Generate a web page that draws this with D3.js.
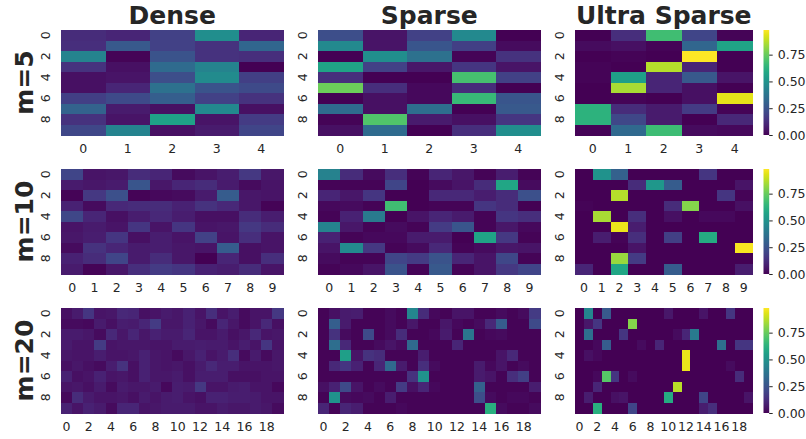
<!DOCTYPE html>
<html lang="en">
<head>
<meta charset="UTF-8">
<title>Heatmaps</title>
<script src="https://d3js.org/d3.v7.min.js"></script>
<style>
  body { margin: 0; background: #fff; }
  text { font-family: "DejaVu Sans", sans-serif; fill: #262626; }
</style>
</head>
<body>
<div id="chart"></div>
<script>
// column titles, row labels, colorbar ticks
const methods = ["Dense", "Sparse", "Ultra Sparse"];
const mValues = [5, 10, 20];
const cbTicks = [0, 0.25, 0.5, 0.75];
const vMax = 0.98;

// m = 5 (10 rows x 5 cols)
const denseM5 = [
  [0.12, 0.10, 0.19, 0.48, 0.10],
  [0.13, 0.27, 0.19, 0.14, 0.32],
  [0.44, 0.01, 0.25, 0.14, 0.13],
  [0.14, 0.04, 0.34, 0.44, 0.00],
  [0.04, 0.05, 0.23, 0.47, 0.18],
  [0.04, 0.10, 0.36, 0.25, 0.22],
  [0.18, 0.22, 0.29, 0.19, 0.14],
  [0.31, 0.07, 0.04, 0.46, 0.04],
  [0.14, 0.05, 0.56, 0.05, 0.17],
  [0.21, 0.44, 0.04, 0.07, 0.20]
];
const sparseM5 = [
  [0.23, 0.05, 0.19, 0.46, 0.00],
  [0.46, 0.05, 0.26, 0.18, 0.03],
  [0.00, 0.48, 0.36, 0.01, 0.14],
  [0.57, 0.19, 0.06, 0.15, 0.05],
  [0.13, 0.00, 0.00, 0.69, 0.19],
  [0.76, 0.13, 0.02, 0.12, 0.00],
  [0.00, 0.04, 0.02, 0.66, 0.26],
  [0.34, 0.04, 0.35, 0.00, 0.27],
  [0.01, 0.71, 0.07, 0.04, 0.15],
  [0.04, 0.34, 0.00, 0.13, 0.48]
];
const ultraM5 = [
  [0.00, 0.13, 0.68, 0.20, 0.01],
  [0.03, 0.04, 0.01, 0.32, 0.57],
  [0.00, 0.01, 0.00, 0.98, 0.00],
  [0.01, 0.00, 0.87, 0.10, 0.00],
  [0.01, 0.55, 0.10, 0.27, 0.05],
  [0.00, 0.85, 0.10, 0.04, 0.00],
  [0.00, 0.01, 0.00, 0.04, 0.94],
  [0.63, 0.12, 0.07, 0.17, 0.01],
  [0.63, 0.21, 0.07, 0.00, 0.11],
  [0.01, 0.33, 0.67, 0.03, 0.02]
];

// m = 10
const denseM10 = [
  [0.20, 0.05, 0.06, 0.12, 0.10, 0.03, 0.05, 0.08, 0.16, 0.06],
  [0.07, 0.06, 0.07, 0.26, 0.06, 0.10, 0.12, 0.07, 0.03, 0.05],
  [0.01, 0.16, 0.24, 0.01, 0.02, 0.03, 0.07, 0.28, 0.06, 0.05],
  [0.09, 0.03, 0.11, 0.12, 0.12, 0.09, 0.14, 0.11, 0.06, 0.01],
  [0.21, 0.10, 0.04, 0.08, 0.11, 0.08, 0.04, 0.04, 0.12, 0.08],
  [0.05, 0.07, 0.05, 0.15, 0.05, 0.15, 0.05, 0.06, 0.16, 0.12],
  [0.06, 0.08, 0.15, 0.04, 0.08, 0.05, 0.19, 0.05, 0.13, 0.05],
  [0.03, 0.14, 0.10, 0.07, 0.08, 0.06, 0.05, 0.28, 0.04, 0.05],
  [0.09, 0.12, 0.20, 0.07, 0.12, 0.06, 0.00, 0.10, 0.04, 0.13],
  [0.07, 0.01, 0.06, 0.13, 0.17, 0.15, 0.09, 0.08, 0.12, 0.05]
];
const sparseM10 = [
  [0.43, 0.12, 0.03, 0.13, 0.01, 0.10, 0.06, 0.01, 0.08, 0.01],
  [0.01, 0.01, 0.01, 0.20, 0.00, 0.03, 0.05, 0.12, 0.58, 0.03],
  [0.10, 0.06, 0.15, 0.00, 0.00, 0.11, 0.11, 0.08, 0.12, 0.24],
  [0.02, 0.03, 0.01, 0.68, 0.00, 0.01, 0.01, 0.15, 0.12, 0.00],
  [0.01, 0.09, 0.40, 0.00, 0.05, 0.10, 0.07, 0.01, 0.15, 0.13],
  [0.44, 0.06, 0.01, 0.03, 0.01, 0.17, 0.26, 0.01, 0.06, 0.02],
  [0.09, 0.01, 0.02, 0.02, 0.07, 0.07, 0.00, 0.57, 0.16, 0.01],
  [0.05, 0.46, 0.16, 0.01, 0.03, 0.11, 0.01, 0.03, 0.06, 0.05],
  [0.03, 0.01, 0.01, 0.20, 0.17, 0.25, 0.10, 0.05, 0.21, 0.01],
  [0.01, 0.02, 0.05, 0.25, 0.01, 0.27, 0.01, 0.05, 0.16, 0.20]
];
const ultraM10 = [
  [0.00, 0.50, 0.30, 0.00, 0.00, 0.00, 0.00, 0.15, 0.00, 0.00],
  [0.00, 0.00, 0.00, 0.12, 0.52, 0.28, 0.00, 0.00, 0.00, 0.05],
  [0.00, 0.00, 0.87, 0.00, 0.00, 0.00, 0.00, 0.00, 0.15, 0.01],
  [0.01, 0.00, 0.00, 0.00, 0.00, 0.12, 0.80, 0.00, 0.00, 0.04],
  [0.00, 0.85, 0.00, 0.13, 0.00, 0.04, 0.00, 0.02, 0.02, 0.00],
  [0.00, 0.00, 0.95, 0.08, 0.00, 0.00, 0.00, 0.00, 0.00, 0.00],
  [0.00, 0.08, 0.01, 0.13, 0.00, 0.18, 0.00, 0.60, 0.00, 0.00],
  [0.00, 0.00, 0.00, 0.05, 0.00, 0.00, 0.00, 0.00, 0.00, 0.97],
  [0.00, 0.00, 0.83, 0.17, 0.00, 0.00, 0.00, 0.00, 0.00, 0.00],
  [0.10, 0.00, 0.58, 0.00, 0.00, 0.28, 0.00, 0.00, 0.00, 0.08]
];

// m = 20
const denseM20 = [
  [0.04, 0.07, 0.15, 0.05, 0.06, 0.11, 0.10, 0.04, 0.05, 0.07, 0.06, 0.09, 0.05, 0.13, 0.05, 0.08, 0.03, 0.05, 0.05, 0.16],
  [0.03, 0.03, 0.02, 0.07, 0.04, 0.08, 0.07, 0.10, 0.17, 0.06, 0.06, 0.09, 0.06, 0.03, 0.10, 0.06, 0.03, 0.05, 0.11, 0.04],
  [0.07, 0.07, 0.06, 0.03, 0.11, 0.06, 0.10, 0.06, 0.09, 0.07, 0.07, 0.10, 0.05, 0.05, 0.07, 0.04, 0.06, 0.11, 0.05, 0.06],
  [0.07, 0.05, 0.05, 0.17, 0.05, 0.06, 0.06, 0.06, 0.05, 0.05, 0.07, 0.07, 0.08, 0.07, 0.07, 0.05, 0.08, 0.05, 0.15, 0.05],
  [0.06, 0.05, 0.05, 0.08, 0.05, 0.05, 0.06, 0.09, 0.06, 0.05, 0.03, 0.06, 0.09, 0.05, 0.07, 0.13, 0.03, 0.07, 0.03, 0.06],
  [0.04, 0.06, 0.04, 0.03, 0.08, 0.14, 0.04, 0.09, 0.06, 0.05, 0.06, 0.04, 0.07, 0.11, 0.08, 0.08, 0.05, 0.05, 0.05, 0.06],
  [0.09, 0.04, 0.05, 0.09, 0.05, 0.06, 0.04, 0.09, 0.06, 0.06, 0.07, 0.04, 0.08, 0.08, 0.08, 0.04, 0.04, 0.04, 0.05, 0.05],
  [0.05, 0.06, 0.04, 0.07, 0.03, 0.07, 0.06, 0.06, 0.07, 0.02, 0.08, 0.07, 0.16, 0.05, 0.05, 0.07, 0.08, 0.05, 0.05, 0.02],
  [0.02, 0.12, 0.07, 0.05, 0.05, 0.06, 0.04, 0.07, 0.05, 0.07, 0.08, 0.05, 0.04, 0.09, 0.09, 0.08, 0.08, 0.07, 0.05, 0.05],
  [0.09, 0.05, 0.09, 0.07, 0.03, 0.10, 0.10, 0.05, 0.06, 0.07, 0.07, 0.07, 0.05, 0.05, 0.07, 0.06, 0.06, 0.07, 0.06, 0.03]
];
const sparseM20 = [
  [0.01, 0.04, 0.07, 0.08, 0.01, 0.01, 0.03, 0.01, 0.45, 0.12, 0.02, 0.01, 0.05, 0.05, 0.01, 0.01, 0.03, 0.01, 0.03, 0.17],
  [0.01, 0.29, 0.07, 0.01, 0.01, 0.01, 0.03, 0.01, 0.06, 0.01, 0.01, 0.06, 0.02, 0.01, 0.03, 0.11, 0.28, 0.01, 0.01, 0.22],
  [0.01, 0.14, 0.03, 0.01, 0.22, 0.01, 0.03, 0.12, 0.01, 0.01, 0.02, 0.07, 0.01, 0.38, 0.01, 0.02, 0.03, 0.01, 0.01, 0.01],
  [0.01, 0.35, 0.11, 0.01, 0.01, 0.03, 0.05, 0.03, 0.33, 0.01, 0.01, 0.01, 0.10, 0.01, 0.01, 0.01, 0.01, 0.01, 0.01, 0.01],
  [0.01, 0.01, 0.55, 0.05, 0.14, 0.12, 0.01, 0.01, 0.01, 0.08, 0.01, 0.01, 0.01, 0.01, 0.01, 0.01, 0.05, 0.11, 0.01, 0.01],
  [0.01, 0.11, 0.15, 0.09, 0.01, 0.10, 0.33, 0.07, 0.01, 0.13, 0.03, 0.01, 0.01, 0.01, 0.07, 0.02, 0.05, 0.01, 0.03, 0.01],
  [0.01, 0.01, 0.01, 0.01, 0.01, 0.01, 0.01, 0.01, 0.14, 0.50, 0.01, 0.01, 0.01, 0.01, 0.07, 0.05, 0.01, 0.13, 0.18, 0.01],
  [0.04, 0.09, 0.22, 0.05, 0.01, 0.03, 0.01, 0.17, 0.04, 0.10, 0.02, 0.01, 0.01, 0.01, 0.30, 0.01, 0.01, 0.01, 0.01, 0.08],
  [0.01, 0.50, 0.03, 0.02, 0.03, 0.01, 0.08, 0.01, 0.01, 0.01, 0.01, 0.01, 0.01, 0.01, 0.23, 0.03, 0.01, 0.02, 0.02, 0.01],
  [0.10, 0.01, 0.10, 0.08, 0.01, 0.01, 0.01, 0.02, 0.01, 0.01, 0.01, 0.01, 0.01, 0.01, 0.01, 0.62, 0.03, 0.01, 0.01, 0.03]
];
const ultraM20 = [
  [0.00, 0.45, 0.00, 0.27, 0.00, 0.00, 0.00, 0.00, 0.00, 0.00, 0.06, 0.00, 0.00, 0.00, 0.05, 0.00, 0.00, 0.15, 0.00, 0.00],
  [0.00, 0.06, 0.15, 0.00, 0.00, 0.00, 0.80, 0.00, 0.00, 0.00, 0.00, 0.00, 0.00, 0.00, 0.00, 0.00, 0.00, 0.00, 0.00, 0.00],
  [0.00, 0.35, 0.00, 0.00, 0.00, 0.15, 0.00, 0.00, 0.00, 0.00, 0.00, 0.03, 0.10, 0.40, 0.00, 0.00, 0.00, 0.00, 0.00, 0.00],
  [0.00, 0.00, 0.02, 0.28, 0.00, 0.00, 0.00, 0.03, 0.00, 0.10, 0.00, 0.00, 0.00, 0.00, 0.00, 0.00, 0.35, 0.00, 0.15, 0.15],
  [0.00, 0.04, 0.02, 0.00, 0.00, 0.00, 0.00, 0.00, 0.00, 0.00, 0.00, 0.00, 0.95, 0.00, 0.00, 0.00, 0.00, 0.00, 0.00, 0.00],
  [0.00, 0.00, 0.00, 0.00, 0.00, 0.00, 0.00, 0.00, 0.00, 0.00, 0.00, 0.00, 0.95, 0.00, 0.00, 0.00, 0.00, 0.03, 0.00, 0.00],
  [0.00, 0.00, 0.02, 0.72, 0.15, 0.00, 0.03, 0.00, 0.00, 0.00, 0.00, 0.00, 0.00, 0.00, 0.00, 0.00, 0.00, 0.00, 0.12, 0.00],
  [0.00, 0.00, 0.10, 0.00, 0.00, 0.00, 0.00, 0.00, 0.00, 0.00, 0.00, 0.88, 0.00, 0.00, 0.00, 0.00, 0.00, 0.00, 0.00, 0.00],
  [0.00, 0.08, 0.00, 0.00, 0.04, 0.05, 0.00, 0.00, 0.00, 0.00, 0.60, 0.00, 0.00, 0.00, 0.20, 0.00, 0.00, 0.00, 0.00, 0.05],
  [0.00, 0.00, 0.62, 0.00, 0.00, 0.00, 0.20, 0.00, 0.00, 0.00, 0.00, 0.00, 0.00, 0.00, 0.08, 0.13, 0.00, 0.00, 0.00, 0.00]
];

const grid = [
  [denseM5, sparseM5, ultraM5],
  [denseM10, sparseM10, ultraM10],
  [denseM20, sparseM20, ultraM20]
];

const W = 806, H = 439;
const panelLeft = [61, 318, 575];
const panelW = [222.5, 222.5, 177.5];
const rowTop = [30, 169, 308];
const panelH = 105;
const cbX = 763.5, cbW = 5.7;

const svg = d3.select("#chart").append("svg")
    .attr("width", W).attr("height", H);

const color = d3.scaleSequential(d3.interpolateViridis).domain([0, vMax]);

// gradient for colorbars
const grad = svg.append("defs").append("linearGradient")
    .attr("id", "viridis").attr("x1", 0).attr("y1", 1).attr("x2", 0).attr("y2", 0);
d3.range(0, 1.0001, 0.05).forEach(t => {
    grad.append("stop").attr("offset", t).attr("stop-color", d3.interpolateViridis(t));
});

// column titles
methods.forEach((name, j) => {
    svg.append("text")
        .attr("x", panelLeft[j] + panelW[j] / 2)
        .attr("y", 24)
        .attr("text-anchor", "middle")
        .style("font-size", "25px")
        .style("font-weight", "bold")
        .text(name);
});

grid.forEach((rowData, i) => {
    const m = mValues[i];
    const y0 = rowTop[i];

    // row label
    svg.append("text")
        .attr("transform", `translate(33,${y0 + panelH / 2}) rotate(-90)`)
        .attr("text-anchor", "middle")
        .style("font-size", "25px")
        .style("font-weight", "bold")
        .text("m=" + m);

    rowData.forEach((mat, j) => {
        const x0 = panelLeft[j];
        const xs = d3.scaleBand().domain(d3.range(m)).range([x0, x0 + panelW[j]]);
        const ys = d3.scaleBand().domain(d3.range(10)).range([y0, y0 + panelH]);

        const cells = [];
        mat.forEach((r, ri) => r.forEach((v, ci) => cells.push({ r: ri, c: ci, v: v })));

        svg.append("g").attr("shape-rendering", "crispEdges")
            .selectAll("rect")
            .data(cells)
            .join("rect")
            .attr("x", d => xs(d.c))
            .attr("y", d => ys(d.r))
            .attr("width", xs.bandwidth() + 0.6)
            .attr("height", ys.bandwidth() + 0.6)
            .attr("fill", d => color(d.v));

        // y tick labels (every other row), rotated
        const yl = svg.append("g");
        d3.range(0, 10, 2).forEach(k => {
            yl.append("text")
                .attr("transform", `translate(${x0 - 11},${ys(k) + ys.bandwidth() / 2}) rotate(-90)`)
                .attr("text-anchor", "middle")
                .style("font-size", "12.5px")
                .text(k);
        });

        // x tick labels
        const step = m === 20 ? 2 : 1;
        const xl = svg.append("g");
        d3.range(0, m, step).forEach(k => {
            xl.append("text")
                .attr("x", xs(k) + xs.bandwidth() / 2)
                .attr("y", y0 + panelH + 18)
                .attr("text-anchor", "middle")
                .style("font-size", "12.5px")
                .text(k);
        });
    });

    // colorbar
    const cbScale = d3.scaleLinear().domain([0, vMax]).range([y0 + panelH, y0]);
    svg.append("rect")
        .attr("x", cbX).attr("y", y0)
        .attr("width", cbW).attr("height", panelH)
        .attr("fill", "url(#viridis)");
    const cbAxis = d3.axisRight(cbScale).tickValues(cbTicks)
        .tickFormat(d3.format(".2f")).tickSize(3.5).tickPadding(5);
    const ax = svg.append("g")
        .attr("transform", `translate(${cbX + cbW},0)`)
        .call(cbAxis);
    ax.select(".domain").remove();
    ax.selectAll("line").attr("stroke", "#262626");
    ax.selectAll("text").style("font-size", "12.5px")
        .style("font-family", "DejaVu Sans, sans-serif").attr("fill", "#262626");
});
</script>
</body>
</html>
